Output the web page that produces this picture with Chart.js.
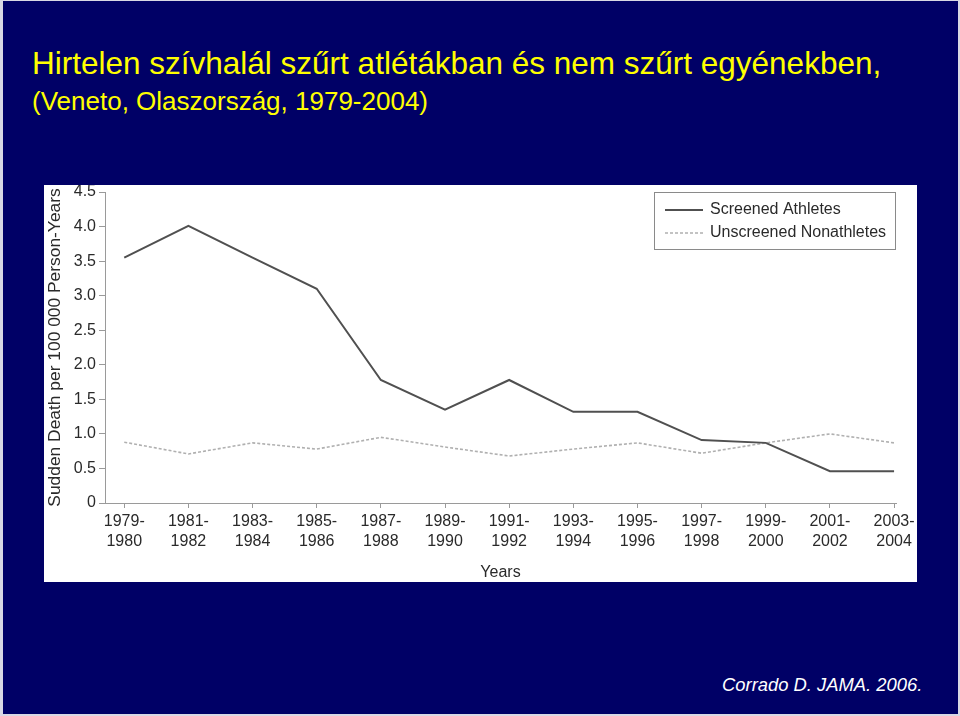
<!DOCTYPE html>
<html>
<head>
<meta charset="utf-8">
<script src="https://cdn.jsdelivr.net/npm/chart.js@4/dist/chart.umd.min.js"></script>
<style>
  html, body { margin: 0; padding: 0; }
  body { width: 960px; height: 716px; background: #d8d8e4; position: relative; overflow: hidden; font-family: "Liberation Sans", Arial, sans-serif; }
  #slide { position: absolute; left: 3px; top: 1px; width: 955px; height: 713px; background: #000066; }
  .title1 { position: absolute; left: 32px; top: 48px; color: #ffff00; font-size: 31.5px; line-height: 1; white-space: nowrap; }
  .title2 { position: absolute; left: 32px; top: 88px; color: #ffff00; font-size: 26px; line-height: 1; white-space: nowrap; }
  .source { position: absolute; left: 722px; top: 676px; color: #ffffff; font-size: 18.4px; font-style: italic; line-height: 1; white-space: nowrap; }
  #panel { position: absolute; left: 44px; top: 185px; width: 873px; height: 397px; background: #ffffff; }
</style>
</head>
<body>
<div id="slide"></div>
<div class="title1">Hirtelen szívhalál szűrt atlétákban és nem szűrt egyénekben,</div>
<div class="title2">(Veneto, Olaszország, 1979-2004)</div>
<div class="source">Corrado D. JAMA. 2006.</div>
<div id="panel"><canvas id="chart" width="873" height="397"></canvas></div>
<script>
// adatok
const periods = ['1979-1980', '1981-1982', '1983-1984', '1985-1986', '1987-1988', '1989-1990', '1991-1992',
                 '1993-1994', '1995-1996', '1997-1998', '1999-2000', '2001-2002', '2003-2004'];
const screened = [3.55, 4.01, 3.55, 3.10, 1.78, 1.35, 1.78, 1.32, 1.32, 0.91, 0.87, 0.46, 0.46];
const unscreened = [0.88, 0.71, 0.87, 0.78, 0.95, 0.81, 0.68, 0.78, 0.87, 0.72, 0.87, 1.00, 0.87];
const seriesNames = ['Screened Athletes', 'Unscreened Nonathletes'];
const yTicks = [0, 0.5, 1, 1.5, 2, 2.5, 3, 3.5, 4, 4.5];

const textColor = '#2a2a2a';
const axisColor = '#9a9a9a';

// legenda doboz a rajzterület jobb felső sarkában
const boxLegend = {
    id: 'boxLegend',
    afterDraw: function(chart) {
        const ctx = chart.ctx;
        const area = chart.chartArea;
        const w = 242, h = 57;
        const x0 = area.right - w, y0 = area.top;
        ctx.save();
        ctx.strokeStyle = '#8a8a8a';
        ctx.lineWidth = 1;
        ctx.strokeRect(x0 + 0.5, y0 + 0.5, w - 1, h);
        ctx.font = '16px "Liberation Sans", Arial, sans-serif';
        ctx.textBaseline = 'middle';
        chart.data.datasets.forEach(function(ds, i) {
            const y = y0 + 18 + i * 23;
            ctx.strokeStyle = ds.borderColor;
            ctx.lineWidth = ds.borderWidth;
            ctx.setLineDash(ds.borderDash || []);
            ctx.beginPath();
            ctx.moveTo(x0 + 11, y);
            ctx.lineTo(x0 + 49, y);
            ctx.stroke();
            ctx.setLineDash([]);
            ctx.fillStyle = textColor;
            ctx.fillText(ds.label, x0 + 56, y);
        });
        ctx.restore();
    }
};

const ctx = document.getElementById('chart').getContext('2d');
new Chart(ctx, {
    type: 'line',
    data: {
        datasets: [{
            label: seriesNames[0],
            data: screened.map((v, i) => ({ x: i, y: v })),
            borderColor: '#505050',
            borderWidth: 2,
            pointRadius: 0,
            tension: 0
        }, {
            label: seriesNames[1],
            data: unscreened.map((v, i) => ({ x: i, y: v })),
            borderColor: '#b0b0b0',
            borderWidth: 1.6,
            borderDash: [3, 2],
            pointRadius: 0,
            tension: 0
        }]
    },
    options: {
        responsive: false,
        animation: false,
        devicePixelRatio: 1,
        layout: { padding: { top: 7, right: 21, left: 0, bottom: 0 } },
        plugins: {
            legend: { display: false },
            tooltip: { enabled: false }
        },
        scales: {
            x: {
                type: 'linear',
                min: -0.3,
                max: 12.03,
                afterBuildTicks: function(scale) {
                    scale.ticks = periods.map((p, i) => ({ value: i }));
                },
                afterFit: function(scale) {
                    scale.height = 79;
                    scale.paddingLeft = 0;
                    scale.paddingRight = 0;
                },
                grid: { drawOnChartArea: false, drawTicks: true, tickLength: 5, color: axisColor },
                border: { display: true, color: axisColor, width: 1 },
                ticks: {
                    autoSkip: false,
                    maxRotation: 0,
                    padding: 4,
                    color: textColor,
                    font: { family: '"Liberation Sans", Arial, sans-serif', size: 16, lineHeight: 1.25 },
                    callback: function(value) {
                        const p = periods[value];
                        return p ? [p.slice(0, 4) + '-', p.slice(5)] : '';
                    }
                },
                title: {
                    display: true,
                    text: 'Years',
                    color: textColor,
                    padding: { top: 0, bottom: 0 },
                    font: { family: '"Liberation Sans", Arial, sans-serif', size: 16 }
                }
            },
            y: {
                min: 0,
                max: 4.5,
                afterBuildTicks: function(scale) {
                    scale.ticks = yTicks.map(v => ({ value: v }));
                },
                afterFit: function(scale) {
                    scale.width = 61;
                    scale.paddingTop = 0;
                    scale.paddingBottom = 0;
                },
                grid: { drawOnChartArea: false, drawTicks: true, tickLength: 6, color: axisColor },
                border: { display: true, color: axisColor, width: 1 },
                ticks: {
                    padding: 3,
                    color: textColor,
                    font: { family: '"Liberation Sans", Arial, sans-serif', size: 16 },
                    callback: function(value) { return value === 0 ? '0' : value.toFixed(1); }
                },
                title: {
                    display: true,
                    text: 'Sudden Death per 100 000 Person-Years',
                    color: textColor,
                    padding: { top: 1, bottom: 0 },
                    font: { family: '"Liberation Sans", Arial, sans-serif', size: 17.4 }
                }
            }
        }
    },
    plugins: [boxLegend]
});
</script>
</body>
</html>
